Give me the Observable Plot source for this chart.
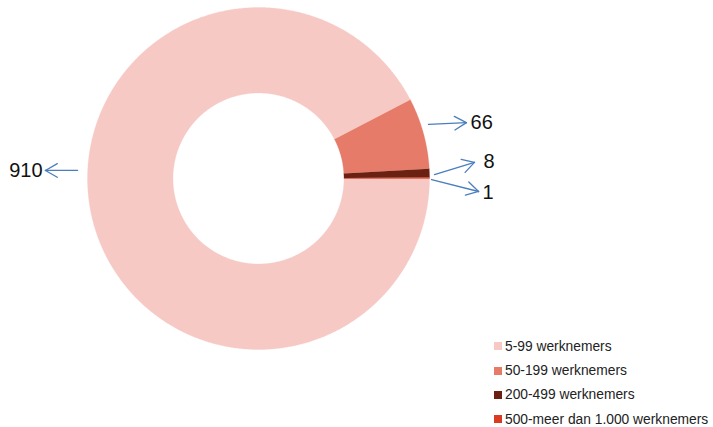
<!DOCTYPE html>
<html>
<head>
<meta charset="utf-8">
<script src="https://cdn.jsdelivr.net/npm/d3@7"></script>
<script src="https://cdn.jsdelivr.net/npm/@observablehq/plot@0.6"></script>
<style>
  html, body { margin: 0; padding: 0; background: #fff; }
  #wrap { position: relative; width: 713px; height: 427px; font-family: "Liberation Sans", Arial, sans-serif; }
  #legend { position: absolute; left: 494px; top: 334px; font-size: 13.8px; color: #222; }
  #legend .row { display: flex; align-items: center; height: 24.4px; white-space: nowrap; }
  #legend .sw { width: 8px; height: 8px; margin-right: 3px; }
</style>
</head>
<body>
<div id="wrap"><div id="chart"></div><div id="legend"></div></div>
<script>
// Data
const categories = ["5-99 werknemers", "50-199 werknemers", "200-499 werknemers", "500-meer dan 1.000 werknemers"];
const values = [910, 66, 8, 1];
const labels = ["910", "66", "8", "1"];
const colors = ["#f6c9c4", "#e57b68", "#6a2112", "#d93a20"];

// Layout (unit-radius coordinates, donut centred at 0,0)
const innerR = 0.5;
const labelLayout = [
  {from: [-1.058, 0.047], to: [-1.246, 0.047], text: [-1.263, 0.047], anchor: "end"},
  {from: [0.994, 0.316], to: [1.216, 0.327], text: [1.240, 0.327], anchor: "start"},
  {from: [1.029, 0.023], to: [1.263, 0.094], text: [1.316, 0.099], anchor: "start"},
  {from: [1.012, -0.006], to: [1.287, -0.076], text: [1.310, -0.082], anchor: "start"}
];
const headLen = 0.08, headHalfAngle = 30 * Math.PI / 180;

const total = d3.sum(values);
const pts = [];
let cum = 0;
values.forEach((v, i) => {
  const a0 = -cum / total * 2 * Math.PI;
  const a1 = -(cum + v) / total * 2 * Math.PI;
  cum += v;
  const n = Math.max(2, Math.ceil(Math.abs(a1 - a0) / (Math.PI / 360)));
  for (let k = 0; k <= n; k++) {
    const a = a0 + (a1 - a0) * k / n;
    pts.push({cat: categories[i], x: Math.cos(a), y: Math.sin(a)});
  }
  for (let k = n; k >= 0; k--) {
    const a = a0 + (a1 - a0) * k / n;
    pts.push({cat: categories[i], x: innerR * Math.cos(a), y: innerR * Math.sin(a)});
  }
});

const ann = labels.map((t, i) => ({
  label: t,
  x1: labelLayout[i].from[0], y1: labelLayout[i].from[1],
  x2: labelLayout[i].to[0], y2: labelLayout[i].to[1],
  tx: labelLayout[i].text[0], ty: labelLayout[i].text[1],
  anchor: labelLayout[i].anchor
}));
// arrow shafts + wings
const segs = [];
ann.forEach(d => {
  segs.push({x1: d.x1, y1: d.y1, x2: d.x2, y2: d.y2});
  const back = Math.atan2(d.y1 - d.y2, d.x1 - d.x2);
  [-1, 1].forEach(s => {
    const a = back + s * headHalfAngle;
    segs.push({x1: d.x2, y1: d.y2, x2: d.x2 + headLen * Math.cos(a), y2: d.y2 + headLen * Math.sin(a)});
  });
});

const R = 171;
const chart = Plot.plot({
  width: 713,
  height: 427,
  margin: 0,
  style: {fontFamily: "'Liberation Sans', Arial, sans-serif", background: "#fff"},
  x: {domain: [-258 / R, (713 - 258) / R], axis: null},
  y: {domain: [-(427 - 178) / R, 178 / R], axis: null},
  color: {domain: categories, range: colors},
  marks: [
    Plot.line(pts, {x: "x", y: "y", z: "cat", fill: "cat", stroke: "cat", strokeWidth: 0.3}),
    Plot.link(segs, {x1: "x1", y1: "y1", x2: "x2", y2: "y2", stroke: "#4a7ebd", strokeWidth: 1.3, strokeLinecap: "round"}),
    Plot.text(ann.filter(d => d.anchor === "end"), {x: "tx", y: "ty", text: "label", textAnchor: "end", fontSize: 20, fill: "#111"}),
    Plot.text(ann.filter(d => d.anchor === "start"), {x: "tx", y: "ty", text: "label", textAnchor: "start", fontSize: 20, fill: "#111"})
  ]
});
document.getElementById("chart").appendChild(chart);

const legend = document.getElementById("legend");
categories.forEach((c, i) => {
  const row = document.createElement("div");
  row.className = "row";
  const sw = document.createElement("span");
  sw.className = "sw";
  sw.style.background = colors[i];
  const tx = document.createElement("span");
  tx.textContent = c;
  row.appendChild(sw);
  row.appendChild(tx);
  legend.appendChild(row);
});
</script>
</body>
</html>
